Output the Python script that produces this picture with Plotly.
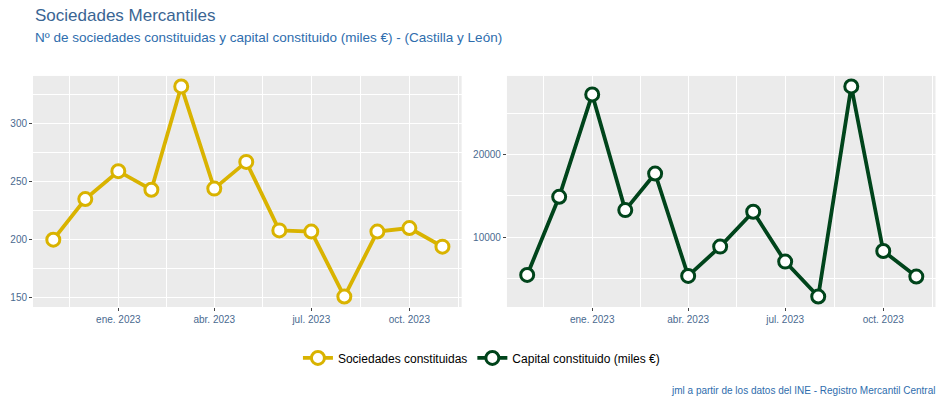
# Sociedades mercantiles - Castilla y León, ggplot-like two-panel chart
import plotly.graph_objects as go

meses = ["2022-11-01", "2022-12-01", "2023-01-01", "2023-02-01", "2023-03-01",
         "2023-04-01", "2023-05-01", "2023-06-01", "2023-07-01", "2023-08-01",
         "2023-09-01", "2023-10-01", "2023-11-01"]
sociedades = [200, 235, 259, 243, 332, 244, 267, 208, 207, 151, 207, 210, 194]
capital = [5460, 14900, 27270, 13290, 17710, 5340, 8880, 13090, 7070, 2850, 28230, 8350, 5260]

tick_vals = ["2023-01-01", "2023-04-01", "2023-07-01", "2023-10-01"]
tick_text = ["ene. 2023", "abr. 2023", "jul. 2023", "oct. 2023"]
minor_x = ["2022-11-16", "2023-02-15", "2023-05-16", "2023-08-16", "2023-11-16"]

AMARILLO = "#D9B300"
VERDE = "#00441B"
FONDO = "#EBEBEB"
AZUL = "#3A6593"
TICKS = "#4A6A90"
FONT = "Liberation Sans, Arial, sans-serif"

fig = go.Figure()

fig.add_trace(go.Scatter(x=meses, y=sociedades, mode="lines+markers",
                         name="Sociedades constituidas",
                         line=dict(color=AMARILLO, width=3.8),
                         marker=dict(size=13, color="white",
                                     line=dict(color=AMARILLO, width=3)),
                         xaxis="x", yaxis="y"))
fig.add_trace(go.Scatter(x=meses, y=capital, mode="lines+markers",
                         name="Capital constituido (miles €)",
                         line=dict(color=VERDE, width=3.8),
                         marker=dict(size=13, color="white",
                                     line=dict(color=VERDE, width=3)),
                         xaxis="x2", yaxis="y2"))

xcommon = dict(type="date", range=["2022-10-13", "2023-11-19"],
               tickvals=tick_vals, ticktext=tick_text,
               ticks="outside", ticklen=3, tickcolor="#444444",
               tickfont=dict(size=10, color=TICKS, family=FONT),
               showgrid=True, gridcolor="white", gridwidth=1.2,
               minor=dict(tickvals=minor_x, showgrid=True, gridcolor="white", gridwidth=0.6),
               zeroline=False, showline=False, automargin=False)

fig.update_layout(
    width=944, height=404,
    margin=dict(l=0, r=0, t=0, b=0),
    paper_bgcolor="white", plot_bgcolor=FONDO,
    font=dict(family=FONT),
    xaxis=dict(domain=[0.035, 0.489], anchor="y", **xcommon),
    xaxis2=dict(domain=[0.537, 0.991], anchor="y2", **xcommon),
    yaxis=dict(domain=[0.24, 0.812], anchor="x",
               range=[141.95, 341.05], tickvals=[150, 200, 250, 300],
               ticks="outside", ticklen=3, tickcolor="#444444",
               tickfont=dict(size=10, color=TICKS, family=FONT),
               gridcolor="white", gridwidth=1.2,
               minor=dict(tickvals=[125, 175, 225, 275, 325], showgrid=True,
                          gridcolor="white", gridwidth=0.6),
               zeroline=False, automargin=False),
    yaxis2=dict(domain=[0.24, 0.812], anchor="x2",
                range=[1580, 29500], tickvals=[10000, 20000], tickformat="d",
                ticks="outside", ticklen=3, tickcolor="#444444",
                tickfont=dict(size=10, color=TICKS, family=FONT),
                gridcolor="white", gridwidth=1.2,
                minor=dict(tickvals=[5000, 15000, 25000], showgrid=True,
                           gridcolor="white", gridwidth=0.6),
                zeroline=False, automargin=False),
    showlegend=True,
    legend=dict(orientation="h", x=0.51, y=0.114, xanchor="center", yanchor="middle",
                font=dict(size=12, color="black", family=FONT),
                bgcolor="rgba(0,0,0,0)", itemwidth=30),
    annotations=[
        dict(text="Sociedades Mercantiles", x=0.035, y=15, xref="paper", yref="paper",
             showarrow=False, xanchor="left", yanchor="middle",
             font=dict(size=17, color=AZUL, family=FONT)),
        dict(text="Nº de sociedades constituidas y capital constituido (miles €) - (Castilla y León)",
             x=0.035, y=38, xref="paper", yref="paper",
             showarrow=False, xanchor="left", yanchor="middle",
             font=dict(size=13.5, color="#2E6DAD", family=FONT)),
        dict(text="jml a partir de los datos del INE - Registro Mercantil Central",
             x=0.993, y=390, xref="paper", yref="paper",
             showarrow=False, xanchor="right", yanchor="middle",
             font=dict(size=10, color="#2E6DAD", family=FONT)),
    ],
)

# annotation y positions given in pixels from top -> convert to paper fraction
for ann in fig.layout.annotations:
    ann.y = 1 - ann.y / 404

# drop the default 8px body margin so the figure sits at the window origin
fig.write_html("out.html", config={"displayModeBar": False},
               post_script="document.body.style.margin='0';")
